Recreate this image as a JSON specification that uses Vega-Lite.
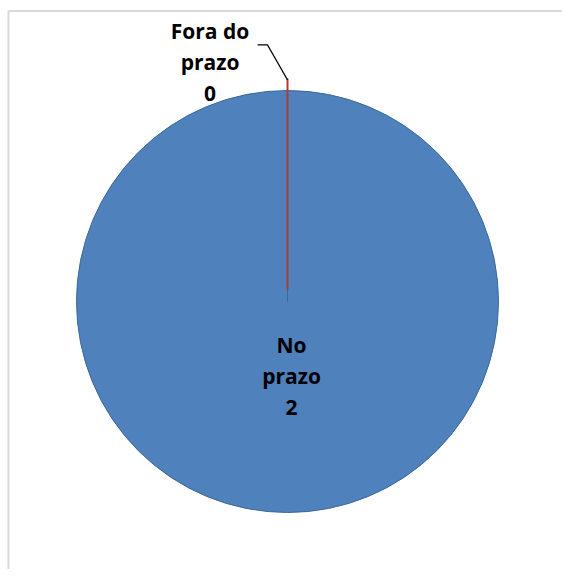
{
  "$schema": "https://vega.github.io/schema/vega-lite/v6.json",
  "width": 564,
  "height": 571,
  "autosize": {"type": "fit", "contains": "padding"},
  "padding": {"left": 7.5, "top": 10, "right": -2.5, "bottom": -21},
  "background": "white",
  "config": {"view": {"stroke": null}},
  "datasets": {
    "pizza": [
      {"categoria": "No prazo", "valor": 2},
      {"categoria": "Fora do prazo", "valor": 0}
    ],
    "guia": [
      {"ordem": 1, "gx": -0.142, "gy": 1.218},
      {"ordem": 2, "gx": -0.095, "gy": 1.218},
      {"ordem": 3, "gx": 0.0, "gy": 1.052}
    ]
  },
  "data": {"name": "pizza"},
  "layer": [
    {
      "mark": {"type": "arc", "outerRadius": 211, "stroke": "#3A6898", "strokeWidth": 1},
      "encoding": {
        "theta": {"field": "valor", "type": "quantitative", "stack": true},
        "color": {
          "field": "categoria",
          "type": "nominal",
          "scale": {"domain": ["No prazo", "Fora do prazo"], "range": ["#4F81BD", "#C0504D"]},
          "legend": null
        }
      }
    },
    {
      "transform": [{"filter": "datum.categoria == 'Fora do prazo'"}],
      "mark": {"type": "arc", "innerRadius": 12, "outerRadius": 223, "stroke": "#B03A36", "strokeWidth": 2, "fillOpacity": 0},
      "encoding": {
        "theta": {"field": "valor", "type": "quantitative", "stack": true}
      }
    },
    {
      "data": {"name": "guia"},
      "mark": {"type": "line", "color": "black", "strokeWidth": 1.2},
      "encoding": {
        "x": {"field": "gx", "type": "quantitative", "scale": {"domain": [-1.3246, 1.3246], "zero": false, "nice": false}, "axis": null},
        "y": {"field": "gy", "type": "quantitative", "scale": {"domain": [-1.3791, 1.3791], "zero": false, "nice": false}, "axis": null},
        "order": {"field": "ordem", "type": "quantitative"}
      }
    },
    {
      "data": {"values": [{}]},
      "mark": {"type": "rule", "color": "#D9D9D9", "strokeWidth": 2},
      "encoding": {
        "x": {"datum": -1.3246, "type": "quantitative"},
        "y": {"datum": -1.27, "type": "quantitative"},
        "y2": {"datum": 1.3791}
      }
    },
    {
      "data": {"values": [{}]},
      "mark": {"type": "rule", "color": "#D9D9D9", "strokeWidth": 2},
      "encoding": {
        "x": {"datum": -1.3246, "type": "quantitative"},
        "x2": {"datum": 1.303},
        "y": {"datum": 1.3791, "type": "quantitative"}
      }
    },
    {
      "transform": [
        {"filter": "datum.categoria == 'No prazo'"},
        {"calculate": "replace(datum.categoria, ' prazo', '\\nprazo') + '\\n' + datum.valor", "as": "rotulo"}
      ],
      "mark": {"type": "text", "radius": 51, "dx": 4, "font": "Open Sans", "fontWeight": "bold", "fontSize": 21, "lineHeight": 31, "lineBreak": "\n", "baseline": "alphabetic", "align": "center", "color": "black"},
      "encoding": {
        "theta": {"field": "valor", "type": "quantitative", "stack": true},
        "text": {"field": "rotulo", "type": "nominal"}
      }
    },
    {
      "transform": [
        {"filter": "datum.categoria == 'Fora do prazo'"},
        {"calculate": "replace(datum.categoria, ' prazo', '\\nprazo') + '\\n' + datum.valor", "as": "rotulo"}
      ],
      "mark": {"type": "text", "radius": 263, "dx": -77.5, "font": "Open Sans", "fontWeight": "bold", "fontSize": 21, "lineHeight": 31, "lineBreak": "\n", "baseline": "alphabetic", "align": "center", "color": "black"},
      "encoding": {
        "theta": {"field": "valor", "type": "quantitative", "stack": true},
        "text": {"field": "rotulo", "type": "nominal"}
      }
    }
  ]
}
